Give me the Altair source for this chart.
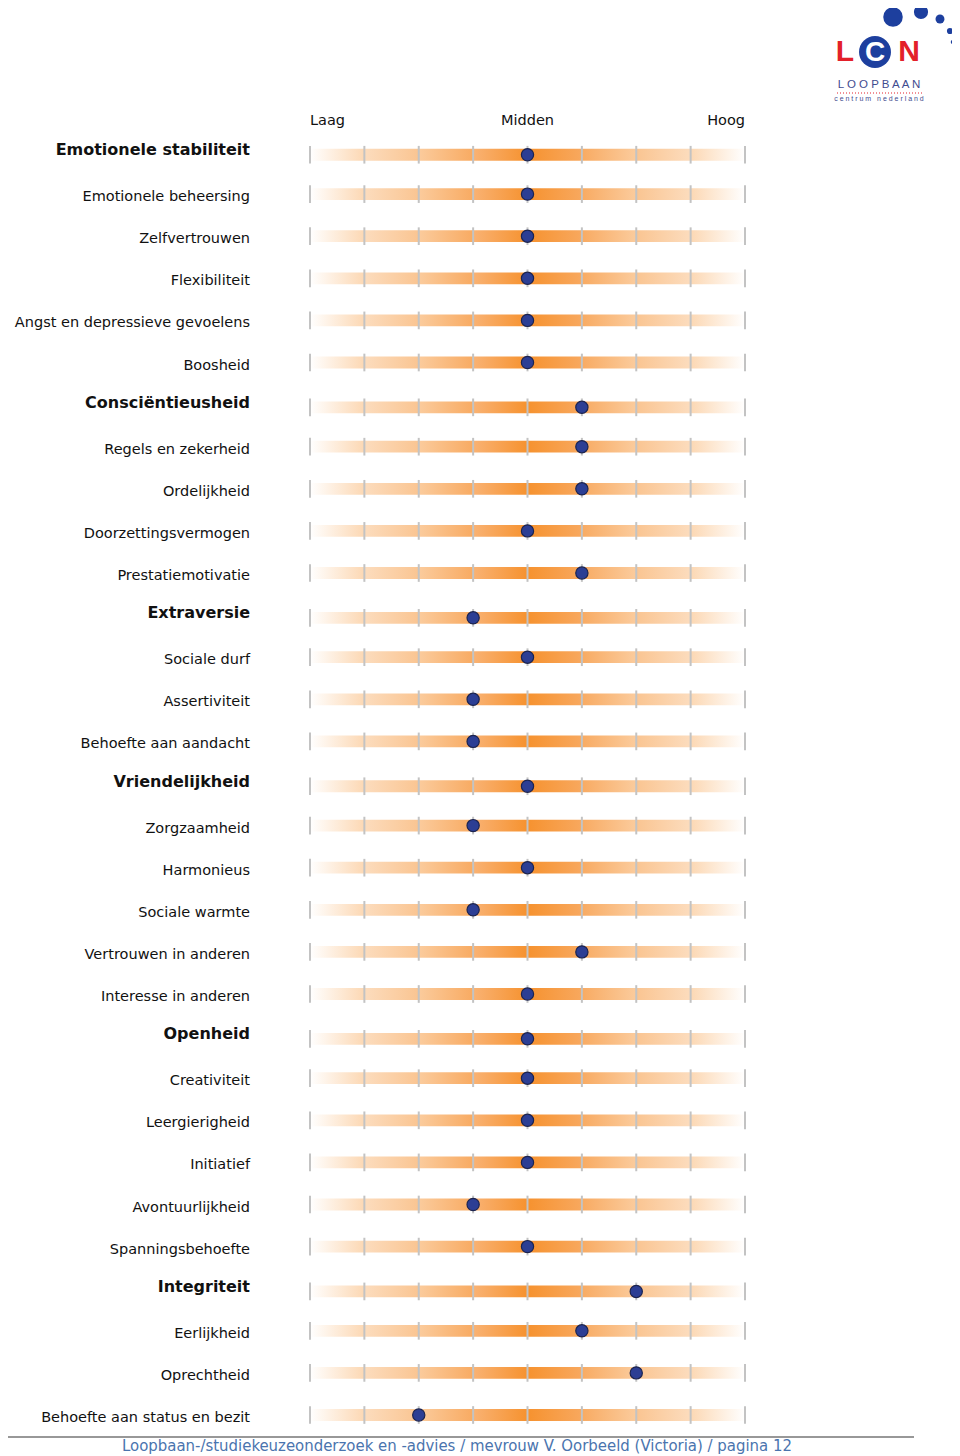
import altair as alt
import pandas as pd

labels = [
    "Emotionele stabiliteit", "Emotionele beheersing", "Zelfvertrouwen", "Flexibiliteit",
    "Angst en depressieve gevoelens", "Boosheid",
    "Consciëntieusheid", "Regels en zekerheid", "Ordelijkheid", "Doorzettingsvermogen",
    "Prestatiemotivatie",
    "Extraversie", "Sociale durf", "Assertiviteit", "Behoefte aan aandacht",
    "Vriendelijkheid", "Zorgzaamheid", "Harmonieus", "Sociale warmte",
    "Vertrouwen in anderen", "Interesse in anderen",
    "Openheid", "Creativiteit", "Leergierigheid", "Initiatief", "Avontuurlijkheid",
    "Spanningsbehoefte",
    "Integriteit", "Eerlijkheid", "Oprechtheid", "Behoefte aan status en bezit",
]
is_header = [
    True, False, False, False, False, False,
    True, False, False, False, False,
    True, False, False, False,
    True, False, False, False, False, False,
    True, False, False, False, False, False,
    True, False, False, False,
]
# score on a 0..8 scale (0 = Laag, 4 = Midden, 8 = Hoog)
scores = [
    4, 4, 4, 4, 4, 4,
    5, 5, 5, 4, 5,
    3, 4, 3, 3,
    4, 3, 4, 3, 5, 4,
    4, 4, 4, 4, 3, 4,
    6, 5, 6, 2,
]
scale_labels = ["Laag", "Midden", "Hoog"]
scale_label_pos = [0, 4, 8]
scale_label_align = ["left", "center", "right"]
tick_positions = [0, 1, 2, 3, 4, 5, 6, 7, 8]
footer_text = "Loopbaan-/studiekeuzeonderzoek en -advies / mevrouw V. Oorbeeld (Victoria) / pagina 12"

n = len(labels)
rows = pd.DataFrame({
    "row": list(range(n)),
    "label": labels,
    "header": is_header,
    "score": scores,
})
rows["lo"] = 0
rows["hi"] = 8

ticks = pd.DataFrame([{"row": r, "t": t, "header": is_header[r]} for r in range(n) for t in tick_positions])

xs = alt.Scale(domain=[0, 8], range=[302, 737])
ys = alt.Scale(domain=[0, n - 1], range=[144, 1407])
FONT = "DejaVu Sans"
SHIFT = "(datum.header ? 0.065 : 0)"

grad = alt.Gradient(
    gradient="linear", x1=0, x2=1, y1=0, y2=0,
    stops=[
        alt.GradientStop(offset=0.0, color="#ffffff"),
        alt.GradientStop(offset=0.124, color="#fcd8b4"),
        alt.GradientStop(offset=0.126, color="#fcdcbd"),
        alt.GradientStop(offset=0.249, color="#fac592"),
        alt.GradientStop(offset=0.251, color="#fbcb9c"),
        alt.GradientStop(offset=0.374, color="#f8ab63"),
        alt.GradientStop(offset=0.376, color="#f9b273"),
        alt.GradientStop(offset=0.5, color="#f6922f"),
        alt.GradientStop(offset=0.624, color="#f8a85e"),
        alt.GradientStop(offset=0.626, color="#f8ab63"),
        alt.GradientStop(offset=0.749, color="#fbcb9c"),
        alt.GradientStop(offset=0.751, color="#fac592"),
        alt.GradientStop(offset=0.874, color="#fcdcbd"),
        alt.GradientStop(offset=0.876, color="#fcd8b4"),
        alt.GradientStop(offset=1.0, color="#ffffff"),
    ],
)

base = alt.Chart(rows).transform_calculate(yc="datum.row + " + SHIFT)

bars = base.transform_calculate(
    y1="datum.yc - 0.14", y2="datum.yc + 0.14"
).mark_rect(color=grad).encode(
    x=alt.X("lo:Q", scale=xs, axis=None),
    x2="hi:Q",
    y=alt.Y("y1:Q", scale=ys, axis=None),
    y2="y2:Q",
)

tick_layer = alt.Chart(ticks).transform_calculate(
    yc="datum.row + " + SHIFT
).transform_calculate(
    y1="datum.yc - 0.21", y2="datum.yc + 0.21"
).mark_rule(color="#c3c3c3", strokeWidth=2).encode(
    x=alt.X("t:Q", scale=xs, axis=None),
    y=alt.Y("y1:Q", scale=ys, axis=None),
    y2="y2:Q",
)

dots = base.mark_point(
    filled=True, fill="#2c3e94", stroke="#1b2450", strokeWidth=1.2, size=150, opacity=1
).encode(
    x=alt.X("score:Q", scale=xs, axis=None),
    y=alt.Y("yc:Q", scale=ys, axis=None),
)

normal_labels = alt.Chart(rows).transform_filter("!datum.header").mark_text(
    align="right", baseline="middle", font=FONT, fontSize=14.5, color="#111111", dy=3
).encode(
    x=alt.value(242),
    y=alt.Y("row:Q", scale=ys, axis=None),
    text="label:N",
)

bold_labels = alt.Chart(rows).transform_filter("datum.header").mark_text(
    align="right", baseline="middle", font=FONT, fontSize=16, fontWeight="bold",
    color="#111111", dy=-2
).encode(
    x=alt.value(242),
    y=alt.Y("row:Q", scale=ys, axis=None),
    text="label:N",
)

hdr = pd.DataFrame({"lab": scale_labels, "pos": scale_label_pos, "al": scale_label_align})
hdr_layers = []
for al in scale_label_align:
    hdr_layers.append(
        alt.Chart(hdr).transform_filter(alt.datum.al == al).mark_text(
            align=al, baseline="middle", font=FONT, fontSize=14.5, color="#111111"
        ).encode(
            x=alt.X("pos:Q", scale=xs, axis=None),
            y=alt.value(113),
            text="lab:N",
        )
    )

footer_df = pd.DataFrame({"txt": [footer_text]})
footer_line = alt.Chart(footer_df).mark_rule(color="#333333", strokeWidth=1.2).encode(
    x=alt.value(-8), x2=alt.value(906), y=alt.value(1429)
)
footer = alt.Chart(footer_df).mark_text(
    align="center", baseline="middle", font="DejaVu Sans Condensed", fontSize=16.6,
    color="#4a74ae"
).encode(x=alt.value(449), y=alt.value(1438), text="txt:N")

# logo (decoration, pixel positions)
logo_dots = pd.DataFrame({
    "px": [885, 913, 932, 942, 945, 947, 867],
    "py": [9, 4, 11, 23, 34, 42, 44],
    "s": [380, 200, 80, 38, 20, 8, 1020],
})
logo_circles = alt.Chart(logo_dots).mark_circle(color="#1d3f9e", opacity=1).encode(
    x=alt.X("px:Q", scale=None), y=alt.Y("py:Q", scale=None),
    size=alt.Size("s:Q", scale=None, legend=None),
)
logo_big = pd.DataFrame({
    "t": ["L", "N", "C"],
    "px": [837, 901, 867],
    "py": [44, 44, 45],
    "fs": [30, 30, 28],
    "c": ["#e3202a", "#e3202a", "#ffffff"],
})
logo_text = alt.Chart(logo_big).mark_text(
    font="Liberation Sans", fontWeight="bold", baseline="middle"
).encode(
    x=alt.X("px:Q", scale=None), y=alt.Y("py:Q", scale=None),
    text="t:N",
    size=alt.Size("fs:Q", scale=None, legend=None),
    color=alt.Color("c:N", scale=None),
)
logo_small = pd.DataFrame({
    "t": ["L O O P B A A N", "c e n t r u m \u00a0 n e d e r l a n d"],
    "px": [871, 871],
    "py": [77, 91],
    "fs": [11.5, 7],
})
logo_words = alt.Chart(logo_small).mark_text(
    font="Liberation Sans", baseline="middle", color="#3f4c8f"
).encode(
    x=alt.X("px:Q", scale=None), y=alt.Y("py:Q", scale=None),
    text="t:N",
    size=alt.Size("fs:Q", scale=None, legend=None),
)
logo_line = alt.Chart(footer_df).mark_rule(color="#e3202a", strokeDash=[1, 2], strokeWidth=1).encode(
    x=alt.value(829), x2=alt.value(914), y=alt.value(85)
)

chart = alt.layer(
    bars, tick_layer, dots, normal_labels, bold_labels, *hdr_layers,
    footer_line, footer, logo_circles, logo_text, logo_words, logo_line,
).properties(
    width=944, height=1446,
    autosize=alt.AutoSizeParams(type="none"),
    padding=0,
).configure_view(stroke=None)

chart.save("out.html", embed_options={"renderer": "svg", "actions": False})
